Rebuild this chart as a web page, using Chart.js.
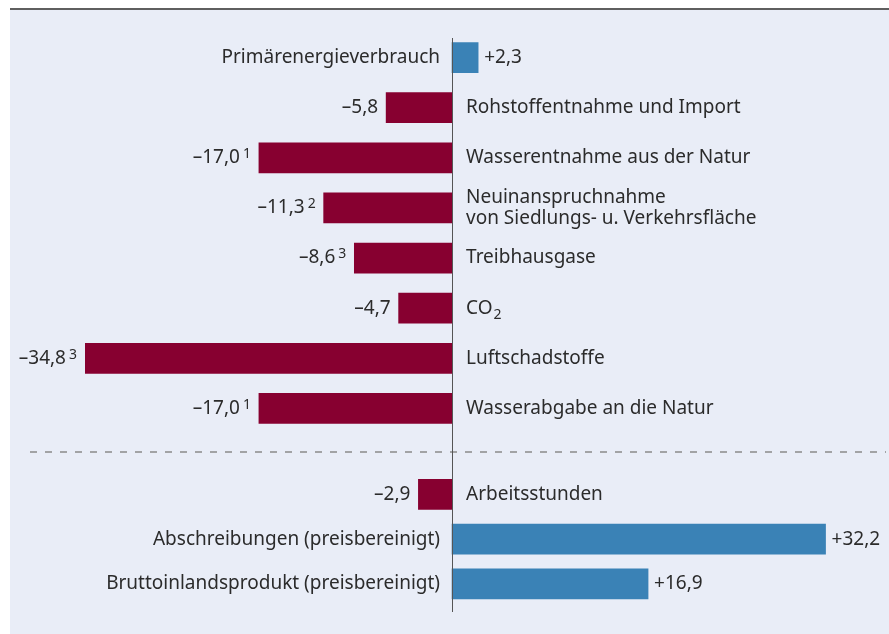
<!DOCTYPE html>
<html>
<head>
<meta charset="utf-8">
<script src="https://cdn.jsdelivr.net/npm/chart.js@4/dist/chart.umd.min.js"></script>
<style>
  body { margin: 0; background: #fff; width: 889px; height: 634px; overflow: hidden; position: relative; }
  #panel { position: absolute; left: 10px; top: 10px; width: 879px; height: 624px; background: #e9edf7; }
  #rule { position: absolute; left: 10px; top: 8px; width: 879px; height: 2px; background: #5f5f5f; }
  canvas { position: absolute; left: 0; }
  #topChart { top: 10px; }
  #bottomChart { top: 442px; }
</style>
</head>
<body>
<div id="rule"></div>
<div id="panel"></div>
<canvas id="topChart" width="889" height="432"></canvas>
<canvas id="bottomChart" width="889" height="192"></canvas>
<script>
// Umweltindikatoren (obere Gruppe)
var topLabels = [
  'Primärenergieverbrauch',
  'Rohstoffentnahme und Import',
  'Wasserentnahme aus der Natur',
  ['Neuinanspruchnahme', 'von Siedlungs- u. Verkehrsfläche'],
  'Treibhausgase',
  'CO₂',
  'Luftschadstoffe',
  'Wasserabgabe an die Natur'
];
var topValues = [2.3, -5.8, -17.0, -11.3, -8.6, -4.7, -34.8, -17.0];
var topNotes = ['', '', '1', '2', '3', '', '3', '1'];

// Wirtschaftliche Größen (untere Gruppe)
var bottomLabels = ['Arbeitsstunden', 'Abschreibungen (preisbereinigt)', 'Bruttoinlandsprodukt (preisbereinigt)'];
var bottomValues = [-2.9, 32.2, 16.9];
var bottomNotes = ['', '', ''];

var RED = '#870030';
var BLUE = '#3a82b6';
var TEXT = '#2b2b2b';
var FONT = '19px "Noto Sans"';
var SMALL_FONT = '14px "Noto Sans"';

function formatValue(v) {
  var s = Math.abs(v).toFixed(1).replace('.', ',');
  return (v > 0 ? '+' : '–') + s;
}

// draws a label line, "₂" becomes a real subscript
function drawLine(ctx, line, x, y, align) {
  var parts = line.split('₂');
  if (parts.length < 2) {
    ctx.textAlign = align;
    ctx.fillText(line, x, y);
    return;
  }
  ctx.textAlign = 'left';
  ctx.fillText(parts[0], x, y);
  var w = ctx.measureText(parts[0]).width;
  ctx.font = SMALL_FONT;
  ctx.fillText('2', x + w + 1, y + 7);
  ctx.font = FONT;
}

var barLabels = {
  id: 'barLabels',
  afterDatasetsDraw: function(chart) {
    var ctx = chart.ctx;
    var area = chart.chartArea;
    var zero = chart.scales.x.getPixelForValue(0);
    var data = chart.data.datasets[0].data;
    var notes = chart.options.plugins.barLabels.notes;
    var meta = chart.getDatasetMeta(0);

    ctx.save();
    ctx.fillStyle = TEXT;
    ctx.textBaseline = 'middle';

    meta.data.forEach(function(bar, i) {
      var v = data[i];
      var end = Math.max(area.left, Math.min(area.right, bar.x));
      var txt = formatValue(v);
      var note = notes[i];
      var label = chart.data.labels[i];
      var lines = Array.isArray(label) ? label : [label];

      // value at bar end
      ctx.font = FONT;
      if (v < 0) {
        var x = end - 8;
        if (note) {
          // footnote top-aligned with the digits
          var digitTop = bar.y - ctx.measureText(txt).actualBoundingBoxAscent;
          ctx.font = SMALL_FONT;
          ctx.textAlign = 'right';
          ctx.textBaseline = 'alphabetic';
          ctx.fillText(note, x, digitTop + ctx.measureText(note).actualBoundingBoxAscent - 1);
          x -= ctx.measureText(note).width + 3;
          ctx.textBaseline = 'middle';
          ctx.font = FONT;
        }
        ctx.textAlign = 'right';
        ctx.fillText(txt, x, bar.y);
      } else {
        ctx.textAlign = 'left';
        ctx.fillText(txt, end + 6, bar.y);
      }

      // category on the other side of the axis
      var lx = v < 0 ? zero + 14 : zero - 12;
      lines.forEach(function(line, j) {
        drawLine(ctx, line, lx, bar.y + (j - (lines.length - 1) / 2) * 21, v < 0 ? 'left' : 'right');
      });
    });
    ctx.restore();
  }
};

var axisLine = {
  id: 'axisLine',
  afterDraw: function(chart) {
    var ctx = chart.ctx;
    var o = chart.options.plugins.axisLine;
    var x = Math.round(chart.scales.x.getPixelForValue(0)) + 0.5;
    ctx.save();
    if (o.dashY != null) {
      ctx.strokeStyle = '#8a8a8a';
      ctx.lineWidth = 1.5;
      ctx.setLineDash([7, 8]);
      ctx.beginPath();
      ctx.moveTo(30, o.dashY);
      ctx.lineTo(886, o.dashY);
      ctx.stroke();
      ctx.setLineDash([]);
    }
    ctx.strokeStyle = '#555';
    ctx.lineWidth = 1;
    ctx.beginPath();
    ctx.moveTo(x, o.from);
    ctx.lineTo(x, o.to);
    ctx.stroke();
    ctx.restore();
  }
};

function makeChart(id, labels, values, notes, opts) {
  return new Chart(document.getElementById(id), {
    type: 'bar',
    data: {
      labels: labels,
      datasets: [{
        data: values,
        backgroundColor: values.map(function(v) { return v < 0 ? RED : BLUE; }),
        barThickness: 30,
        borderWidth: 0
      }]
    },
    options: {
      indexAxis: 'y',
      responsive: false,
      animation: false,
      layout: { padding: opts.padding },
      scales: {
        x: { display: false, min: opts.min, max: opts.max },
        y: { display: false }
      },
      plugins: {
        legend: { display: false },
        tooltip: { enabled: false },
        barLabels: { notes: notes },
        axisLine: opts.axis
      }
    },
    plugins: [barLabels, axisLine]
  });
}

makeChart('topChart', topLabels, topValues, topNotes, {
  padding: { left: 85, right: 0, top: 22.5, bottom: 8.5 },
  min: -32.31, max: 38.47,
  axis: { from: 28, to: 432, dashY: null }
});

makeChart('bottomChart', bottomLabels, bottomValues, bottomNotes, {
  padding: { left: 85, right: 0, top: 30, bottom: 27.75 },
  min: -31.64, max: 37.67,
  axis: { from: 0, to: 170, dashY: 10 }
});
</script>
</body>
</html>
